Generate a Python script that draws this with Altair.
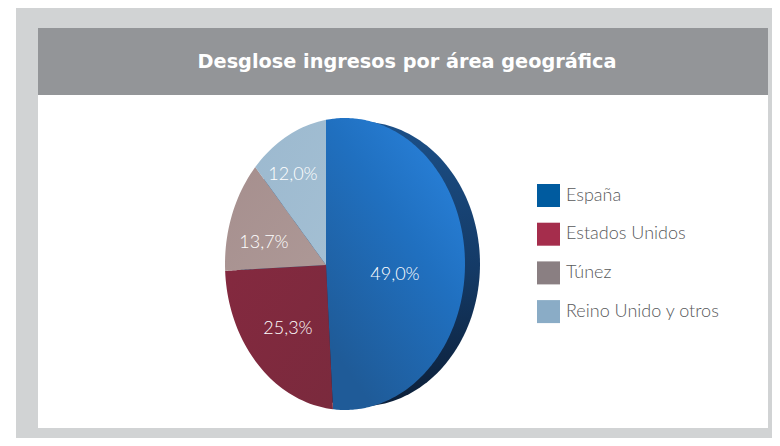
import math
import altair as alt
import pandas as pd

TITLE = "Desglose ingresos por área geográfica"
categories = ["España", "Estados Unidos", "Túnez", "Reino Unido y otros"]
shares = [49.0, 25.3, 13.7, 12.0]
share_labels = ["49,0%", "25,3%", "13,7%", "12,0%"]
legend_colors = ["#005b9f", "#a52d4c", "#8a7f82", "#8aacc6"]

W, H = 764, 430
OX, OY = 8, 8
PIVOT = (326.0, 265.0)
FACE = (345.0, 264.0, 120.0, 146.0)
SIDE = (360.0, 264.0, 120.0, 142.5)
SQUEEZE = 0.77
LABEL_FONT = "Lato"
x_scale = alt.Scale(domain=[OX, OX + W], nice=False, zero=False)
y_scale = alt.Scale(domain=[OY + H, OY], nice=False, zero=False)


def rim(deg):
    """Point where the ray for pie angle deg meets the tilted face ellipse."""
    a = math.radians(deg)
    dx, dy = math.sin(a) * SQUEEZE, -math.cos(a)
    ex, ey, rx, ry = FACE
    px, py = (PIVOT[0] - ex) / rx, (PIVOT[1] - ey) / ry
    qx, qy = dx / rx, dy / ry
    A, B, C = qx * qx + qy * qy, 2 * (px * qx + py * qy), px * px + py * py - 1
    t = (-B + math.sqrt(B * B - 4 * A * C)) / (2 * A)
    return PIVOT[0] + t * dx, PIVOT[1] + t * dy


def span(poly):
    """Turn a convex outline into x / y / y2 rows for an area mark."""
    xs = sorted({round(p[0], 3) for p in poly})
    rows = []
    for x in xs:
        hits = []
        for (x0, y0), (x1, y1) in zip(poly, poly[1:] + poly[:1]):
            lo, hi = min(x0, x1), max(x0, x1)
            if lo - 1e-3 <= x <= hi + 1e-3:
                if abs(x1 - x0) < 1e-6:
                    hits += [y0, y1]
                else:
                    hits.append(y0 + (y1 - y0) * (x - x0) / (x1 - x0))
        rows.append({"x": x, "y": min(hits), "y2": max(hits)})
    return pd.DataFrame(rows)


def grad(x1, y1, x2, y2, stops):
    return alt.Gradient(
        gradient="linear", x1=x1, y1=y1, x2=x2, y2=y2,
        stops=[alt.GradientStop(offset=o, color=c) for o, c in stops],
    )


def area(df, fill):
    return alt.Chart(df).mark_area(color=fill, interpolate="linear", strokeWidth=0).encode(
        x=alt.X("x:Q", scale=x_scale, axis=None),
        y=alt.Y("y:Q", scale=y_scale, axis=None),
        y2="y2:Q",
    )


def block(x0, x1, y0, y1, color):
    return alt.Chart(pd.DataFrame({"k": [0]})).mark_rect(color=color).encode(
        x=alt.value(x0 - OX), x2=alt.value(x1 - OX),
        y=alt.value(y0 - OY), y2=alt.value(y1 - OY),
    )


slice_fills = [
    grad(1, 0.05, 0.35, 1, [(0, "#2b85e0"), (0.45, "#2070c0"), (1, "#1f5b98")]),
    grad(0, 0, 1, 1, [(0, "#84293f"), (1, "#7a2a3d")]),
    grad(0, 0, 1, 1, [(0, "#a68f8e"), (1, "#ad9896")]),
    grad(0, 0, 1, 1, [(0, "#9cb9cf"), (1, "#a3bfd3")]),
]

ex, ey, rx, ry = SIDE
side_rows = []
for d in range(-90, 91, 2):
    a = math.radians(d)
    side_rows.append({"x": ex + rx * math.sin(a), "y": ey - ry * math.cos(a), "y2": ey + ry * math.cos(a)})
layers = [
    block(16, 772, 8, 438, "#d1d3d4"),
    block(38, 768, 95, 428, "#ffffff"),
    block(38, 768, 28, 95, "#939598"),
    area(pd.DataFrame(side_rows), grad(0.6, 0, 0.7, 1, [(0, "#1c5088"), (0.55, "#143a66"), (1, "#0c1f38")])),
]

start = 0.0
for share, fill in zip(shares, slice_fills):
    end = start + share * 3.6
    n = max(2, int((end - start) / 2))
    outline = [PIVOT] + [rim(start + (end - start) * i / n) for i in range(n + 1)]
    layers.append(area(span(outline), fill))
    start = end

label_pos = [(395, 275), (288, 329), (264, 243), (293, 175)]
for text, (lx, ly) in zip(share_labels, label_pos):
    layers.append(
        alt.Chart(pd.DataFrame({"t": [text]})).mark_text(
            font=LABEL_FONT, fontSize=18, fontWeight=300, color="#ffffff", align="center", baseline="middle"
        ).encode(text="t:N", x=alt.value(lx - OX), y=alt.value(ly - OY))
    )

layers.append(
    alt.Chart(pd.DataFrame({"t": [TITLE]})).mark_text(
        font="DejaVu Sans", fontSize=19.3, fontWeight="bold", color="#ffffff", align="center", baseline="middle"
    ).encode(text="t:N", x=alt.value(407 - OX), y=alt.value(62 - OY))
)

layers.append(
    alt.Chart(pd.DataFrame({"c": categories})).mark_square(opacity=0).encode(
        x=alt.value(0), y=alt.value(0),
        color=alt.Color(
            "c:N",
            scale=alt.Scale(domain=categories, range=legend_colors),
            sort=categories,
            legend=alt.Legend(
                orient="none", legendX=537 - OX, legendY=184 - OY, title=None,
                symbolType="square", symbolSize=529, symbolOpacity=1, symbolStrokeWidth=0,
                labelFont=LABEL_FONT, labelFontSize=18, labelFontWeight=300, labelColor="#58595b",
                labelLimit=300, labelOffset=6, rowPadding=15.7, padding=0,
            ),
        ),
    )
)

chart = alt.layer(*layers).properties(
    width=W, height=H, padding=0, background="#ffffff",
    autosize=alt.AutoSizeParams(type="none"),
).configure_view(stroke=None)

chart.save("out.html", embed_options={"renderer": "svg", "actions": False})
